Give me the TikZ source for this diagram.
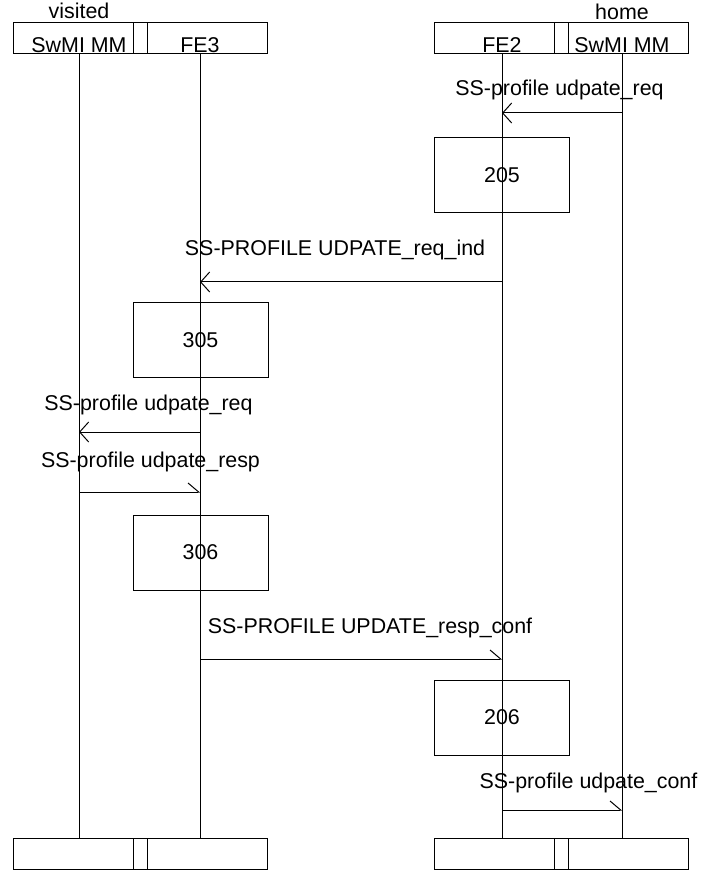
\documentclass[tikz,border=0pt]{standalone}
\usepackage{fontspec}
\setmainfont{Liberation Sans}
\usetikzlibrary{positioning, arrows.meta}

\begin{document}
\begin{tikzpicture}[
    x=0.5pt, y=-0.5pt,
    frame/.style={rectangle, draw=black, line width=0.5pt, inner sep=0pt,
                  minimum width=127pt, minimum height=15.5pt},
    divider/.style={rectangle, draw=black, line width=0.5pt, inner sep=0pt,
                    minimum width=7pt, minimum height=15.5pt},
    action/.style={rectangle, draw=black, line width=0.5pt, inner sep=0pt,
                   minimum width=67.5pt, minimum height=37.5pt,
                   font=\fontsize{10.7}{12.8}\selectfont},
    txt/.style={inner sep=0pt, anchor=base, font=\fontsize{10.7}{12.8}\selectfont},
    life/.style={line width=0.5pt},
    msgl/.style={line width=0.5pt, -{Straight Barb[length=4.5pt, width=10pt]}},
    msgr/.style={line width=0.5pt, -{Straight Barb[left, length=5.3pt, width=9pt]}}
  ]
    \useasboundingbox (0,0) rectangle (700,870);

    % Entity heads
    \node[frame] (vhead) at (140,38.5) {};
    \node[divider] (vdiv) at (140,38.5) {};
    \node[frame] (hhead) at (561.5,38.5) {};
    \node[divider] (hdiv) at (561.5,38.5) {};

    \node[txt] (visited) at (79,19) {visited};
    \node[txt] (home) at (622,20) {home};
    \node[txt] (mmv) at (79,53) {SwMI MM};
    \node[txt] (fe3) at (200,53) {FE3};
    \node[txt] (fe2) at (502,53) {FE2};
    \node[txt] (mmh) at (622,53) {SwMI MM};

    % Entity feet
    \node[frame] (vfoot) at (140,853.5) {};
    \node[divider] (vfdiv) at (140,853.5) {};
    \node[frame] (hfoot) at (561.5,853.5) {};
    \node[divider] (hfdiv) at (561.5,853.5) {};

    % Lifelines
    \draw[life] (mmv |- vhead.south) -- (mmv |- vfoot.north);
    \draw[life] (fe3 |- vhead.south) -- (fe3 |- vfoot.north);
    \draw[life] (fe2 |- hhead.south) -- (fe2 |- hfoot.north);
    \draw[life] (mmh |- hhead.south) -- (mmh |- hfoot.north);

    % Action boxes
    \node[action] (a205) at (502,175.5) {205};
    \node[action] (a305) at (200.5,340) {305};
    \node[action] (a306) at (200.5,552.5) {306};
    \node[action] (a206) at (502,717.5) {206};

    % Message rows
    \coordinate (r1) at (0,113);
    \coordinate (r2) at (0,282);
    \coordinate (r3) at (0,432);
    \coordinate (r4) at (0,492);
    \coordinate (r5) at (0,659);
    \coordinate (r6) at (0,810);

    % Messages
    \draw[msgl] (mmh |- r1) -- (fe2 |- r1);
    \node[txt] (l1) at (559.5,96) {SS-profile udpate\_req};

    \draw[msgl] (fe2 |- r2) -- (fe3 |- r2);
    \node[txt] (l2) at (335,256) {SS-PROFILE UDPATE\_req\_ind};

    \draw[msgl] (fe3 |- r3) -- (mmv |- r3);
    \node[txt] (l3) at (148.5,410) {SS-profile udpate\_req};

    \draw[msgr] (mmv |- r4) -- (fe3 |- r4);
    \node[txt] (l4) at (150.5,467) {SS-profile udpate\_resp};

    \draw[msgr] (fe3 |- r5) -- (fe2 |- r5);
    \node[txt] (l5) at (370,633) {SS-PROFILE UPDATE\_resp\_conf};

    \draw[msgr] (fe2 |- r6) -- (mmh |- r6);
    \node[txt] (l6) at (588.5,788) {SS-profile udpate\_conf};

  \end{tikzpicture}
\end{document}
